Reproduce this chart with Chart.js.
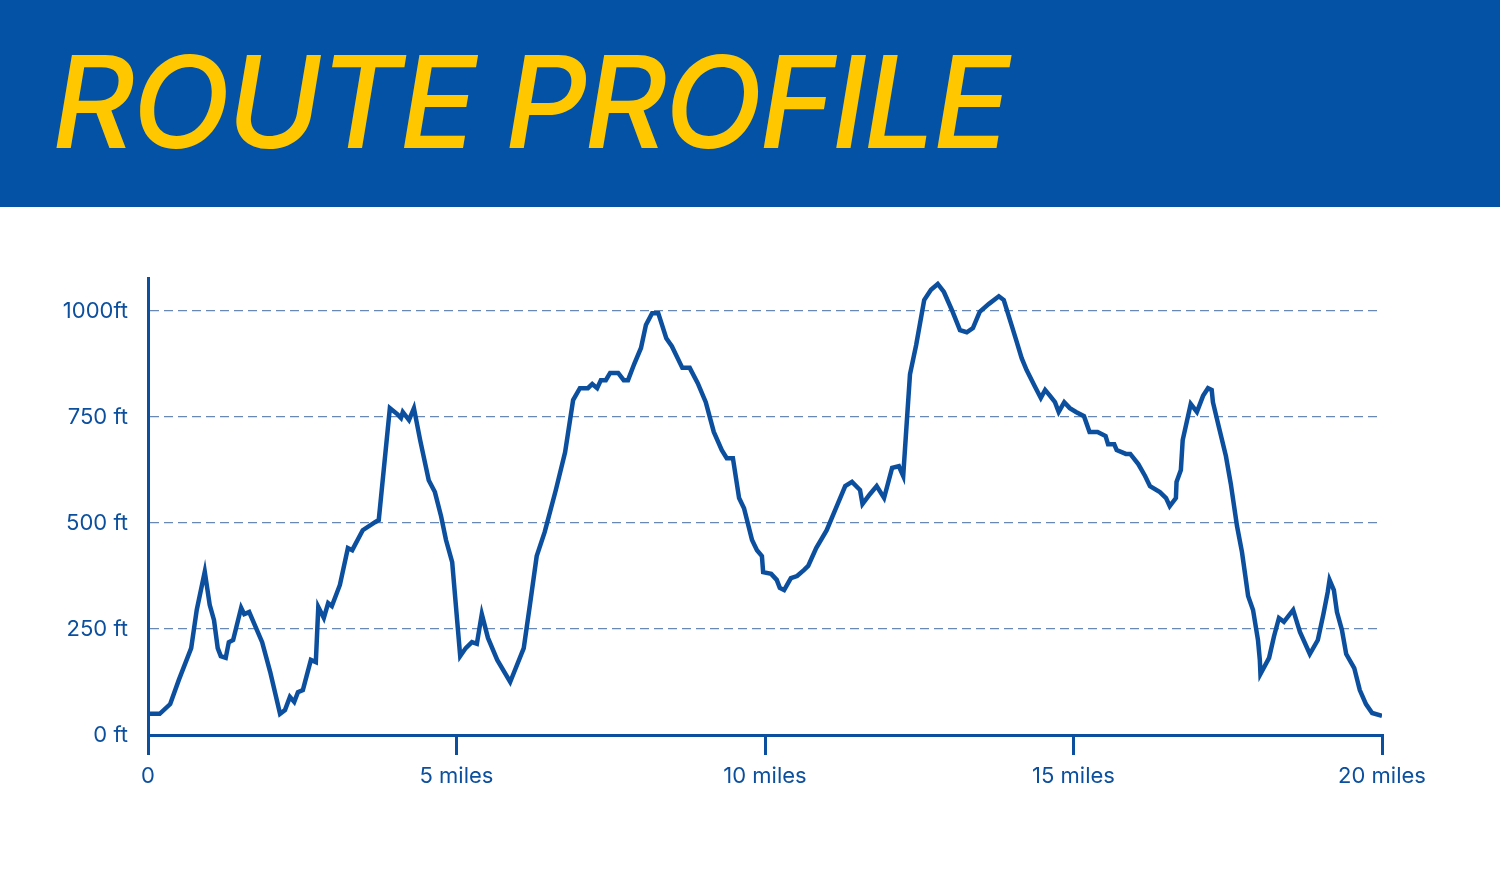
<!DOCTYPE html>
<html>
<head>
<meta charset="utf-8">
<script src="https://cdn.jsdelivr.net/npm/chart.js@4"></script>
<style>
  html, body { margin: 0; padding: 0; background: #fff; width: 1500px; height: 880px; overflow: hidden; }
  .kop { height: 207px; background: #0352a6; position: relative; }
  .kop h1 { margin: 0; position: absolute; left: 52px; top: 38px; font-family: Inter, "Open Sans", sans-serif;
    font-style: italic; font-weight: 500; font-size: 128px; color: #ffc700; letter-spacing: -3px; line-height: 1; }
  .grafiek { position: relative; width: 1500px; height: 673px; }
</style>
</head>
<body>
<div class="kop"><h1>ROUTE PROFILE</h1></div>
<div class="grafiek"><canvas id="profiel"></canvas></div>
<script>
// afstand in mijlen en hoogte in voet
const afstand = [0,0.19,0.36,0.5,0.7,0.79,0.92,1.0,1.07,1.13,1.18,1.26,1.31,1.38,1.51,1.56,1.64,1.85,1.98,2.14,2.22,2.3,2.37,2.43,2.51,2.64,2.72,2.76,2.85,2.92,2.98,3.11,3.24,3.31,3.48,3.68,3.74,3.92,4.04,4.10,4.13,4.23,4.31,4.41,4.55,4.65,4.75,4.83,4.93,5.06,5.15,5.25,5.33,5.41,5.51,5.66,5.87,6.09,6.19,6.30,6.43,6.61,6.76,6.89,7.0,7.13,7.2,7.28,7.34,7.42,7.49,7.62,7.71,7.78,7.88,7.99,8.07,8.17,8.27,8.40,8.49,8.66,8.78,8.91,9.04,9.17,9.30,9.38,9.48,9.58,9.66,9.79,9.87,9.95,9.97,10.10,10.19,10.24,10.31,10.42,10.52,10.63,10.70,10.83,11.0,11.15,11.30,11.41,11.54,11.58,11.70,11.81,11.93,12.06,12.17,12.24,12.30,12.35,12.45,12.58,12.69,12.80,12.90,13.03,13.16,13.27,13.37,13.48,13.63,13.79,13.87,14.0,14.07,14.16,14.24,14.37,14.47,14.54,14.62,14.70,14.76,14.85,14.94,15.04,15.17,15.26,15.39,15.52,15.56,15.66,15.70,15.85,15.92,16.05,16.16,16.24,16.40,16.50,16.56,16.66,16.67,16.74,16.77,16.90,17.0,17.10,17.18,17.24,17.26,17.36,17.47,17.55,17.65,17.73,17.79,17.83,17.91,17.99,18.02,18.03,18.17,18.25,18.33,18.41,18.56,18.67,18.83,18.96,19.05,19.12,19.15,19.22,19.27,19.35,19.42,19.55,19.64,19.74,19.84,20.0];
const hoogte = [50,50,73,130,205,295,385,307,271,205,186,182,219,224,300,285,290,219,149,50,59,90,78,101,106,177,172,302,276,311,304,354,441,436,483,502,507,771,757,748,762,743,771,696,601,573,516,460,408,186,205,219,215,285,229,177,125,205,307,422,479,578,667,790,818,818,828,818,837,837,854,854,837,837,875,913,967,995,995,936,917,866,866,830,785,715,672,653,653,559,535,460,436,422,384,380,366,347,342,370,375,389,399,441,483,535,587,597,578,545,568,587,559,630,634,611,743,851,920,1026,1050,1064,1045,1002,955,950,960,998,1017,1035,1026,965,932,889,861,823,795,814,800,785,762,785,771,762,752,715,715,705,686,686,672,663,663,639,611,587,573,559,540,559,597,625,696,781,762,800,818,814,785,724,658,592,493,432,370,328,295,224,177,144,182,233,276,267,295,243,191,224,285,337,366,342,290,248,191,158,106,73,52,45];
const yTicks = [0, 250, 500, 750, 1000];
const yLabels = ['0 ft', '250 ft', '500 ft', '750 ft', '1000ft'];
const xTicks = [0, 5, 10, 15, 20];
const xLabels = ['0', '5 miles', '10 miles', '15 miles', '20 miles'];

const blauw = '#0b4f9e';
const font = { family: 'Inter, "Open Sans", sans-serif', size: 22 };

new Chart(document.getElementById('profiel'), {
  type: 'line',
  data: {
    datasets: [{
      data: afstand.map((x, i) => ({ x: x, y: hoogte[i] })),
      borderColor: blauw,
      borderWidth: 4.5,
      pointRadius: 0,
      tension: 0,
      fill: false
    }]
  },
  options: {
    responsive: true,
    maintainAspectRatio: false,
    animation: false,
    layout: { padding: { top: 71, right: 118, left: 0, bottom: 0 } },
    plugins: { legend: { display: false }, tooltip: { enabled: false } },
    scales: {
      x: {
        type: 'linear', min: 0, max: 20,
        afterBuildTicks: s => { s.ticks = xTicks.map(v => ({ value: v })); },
        afterFit: s => { s.height = 145; },
        ticks: { color: blauw, font: font, padding: 8, maxRotation: 0,
          callback: v => xLabels[xTicks.indexOf(v)] },
        grid: { drawOnChartArea: false, drawTicks: true, tickLength: 20, color: blauw, lineWidth: 3 },
        border: { color: blauw, width: 3 }
      },
      y: {
        min: 0, max: 1078,
        afterBuildTicks: s => { s.ticks = yTicks.map(v => ({ value: v })); },
        afterFit: s => { s.width = 148; },
        ticks: { color: blauw, font: font, padding: 20,
          callback: v => yLabels[yTicks.indexOf(v)] },
        grid: { drawTicks: false, lineWidth: 1.2,
          color: c => c.tick && c.tick.value === 0 ? 'rgba(0,0,0,0)' : '#6a88b4' },
        border: { color: blauw, width: 3, dash: [9, 5] }
      }
    }
  }
});
</script>
</body>
</html>
